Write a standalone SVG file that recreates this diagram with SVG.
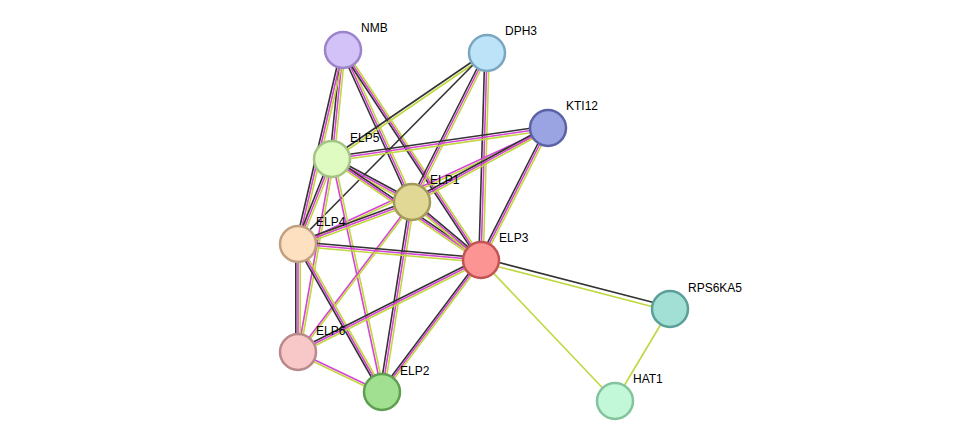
<svg xmlns="http://www.w3.org/2000/svg" width="976" height="446" viewBox="0 0 976 446">
<style>
line{stroke-width:1.6}
.k{stroke:#333}.m{stroke:#d545d5}.y{stroke:#c2d640}
.v .k{transform:translate(-2.2px,0)}.v .y{transform:translate(2.2px,0)}
.h .k{transform:translate(0,-2.2px)}.h .y{transform:translate(0,2.2px)}
circle{stroke-width:2.5}
text{font-family:"Liberation Sans",Arial,sans-serif;font-size:12px;fill:#000}
</style>
<rect width="976" height="446" fill="#fff"/>
<g id="connectors">
<g class="v"><line class="k" x1="343" y1="50" x2="332" y2="159"/><line class="m" x1="343" y1="50" x2="332" y2="159"/><line class="y" x1="343" y1="50" x2="332" y2="159"/></g>
<g class="v"><line class="k" x1="343" y1="50" x2="298" y2="244"/><line class="m" x1="343" y1="50" x2="298" y2="244"/><line class="y" x1="343" y1="50" x2="298" y2="244"/></g>
<g class="v"><line class="k" x1="343" y1="50" x2="412" y2="202"/><line class="m" x1="343" y1="50" x2="412" y2="202"/><line class="y" x1="343" y1="50" x2="412" y2="202"/></g>
<g class="v"><line class="k" x1="343" y1="50" x2="481" y2="260"/><line class="m" x1="343" y1="50" x2="481" y2="260"/><line class="y" x1="343" y1="50" x2="481" y2="260"/></g>
<g class="v"><line class="k" x1="487" y1="53" x2="332" y2="159"/><line class="y" x1="487" y1="53" x2="332" y2="159"/></g>
<g class="v"><line class="k" x1="487" y1="53" x2="298" y2="244"/></g>
<g class="v"><line class="k" x1="487" y1="53" x2="412" y2="202"/><line class="m" x1="487" y1="53" x2="412" y2="202"/><line class="y" x1="487" y1="53" x2="412" y2="202"/></g>
<g class="v"><line class="k" x1="487" y1="53" x2="481" y2="260"/><line class="m" x1="487" y1="53" x2="481" y2="260"/><line class="y" x1="487" y1="53" x2="481" y2="260"/></g>
<g class="h"><line class="k" x1="548" y1="128" x2="332" y2="159"/><line class="m" x1="548" y1="128" x2="332" y2="159"/><line class="y" x1="548" y1="128" x2="332" y2="159"/></g>
<g class="h"><line class="m" x1="548" y1="128" x2="298" y2="244"/><line class="y" x1="548" y1="128" x2="298" y2="244"/></g>
<g class="h"><line class="k" x1="548" y1="128" x2="412" y2="202"/><line class="m" x1="548" y1="128" x2="412" y2="202"/><line class="y" x1="548" y1="128" x2="412" y2="202"/></g>
<g class="v"><line class="k" x1="548" y1="128" x2="481" y2="260"/><line class="m" x1="548" y1="128" x2="481" y2="260"/><line class="y" x1="548" y1="128" x2="481" y2="260"/></g>
<g class="h"><line class="k" x1="332" y1="159" x2="412" y2="202"/><line class="m" x1="332" y1="159" x2="412" y2="202"/><line class="y" x1="332" y1="159" x2="412" y2="202"/></g>
<g class="h"><line class="k" x1="332" y1="159" x2="481" y2="260"/><line class="m" x1="332" y1="159" x2="481" y2="260"/><line class="y" x1="332" y1="159" x2="481" y2="260"/></g>
<g class="v"><line class="k" x1="332" y1="159" x2="298" y2="244"/><line class="m" x1="332" y1="159" x2="298" y2="244"/><line class="y" x1="332" y1="159" x2="298" y2="244"/></g>
<g class="v"><line class="m" x1="332" y1="159" x2="298" y2="352"/><line class="y" x1="332" y1="159" x2="298" y2="352"/></g>
<g class="v"><line class="m" x1="332" y1="159" x2="382" y2="392"/><line class="y" x1="332" y1="159" x2="382" y2="392"/></g>
<g class="h"><line class="k" x1="412" y1="202" x2="298" y2="244"/><line class="m" x1="412" y1="202" x2="298" y2="244"/><line class="y" x1="412" y1="202" x2="298" y2="244"/></g>
<g class="h"><line class="k" x1="412" y1="202" x2="481" y2="260"/><line class="m" x1="412" y1="202" x2="481" y2="260"/><line class="y" x1="412" y1="202" x2="481" y2="260"/></g>
<g class="v"><line class="m" x1="412" y1="202" x2="298" y2="352"/><line class="y" x1="412" y1="202" x2="298" y2="352"/></g>
<g class="v"><line class="k" x1="412" y1="202" x2="382" y2="392"/><line class="m" x1="412" y1="202" x2="382" y2="392"/><line class="y" x1="412" y1="202" x2="382" y2="392"/></g>
<g class="h"><line class="k" x1="298" y1="244" x2="481" y2="260"/><line class="m" x1="298" y1="244" x2="481" y2="260"/><line class="y" x1="298" y1="244" x2="481" y2="260"/></g>
<g class="v"><line class="k" x1="298" y1="244" x2="298" y2="352"/><line class="m" x1="298" y1="244" x2="298" y2="352"/><line class="y" x1="298" y1="244" x2="298" y2="352"/></g>
<g class="v"><line class="k" x1="298" y1="244" x2="382" y2="392"/><line class="m" x1="298" y1="244" x2="382" y2="392"/><line class="y" x1="298" y1="244" x2="382" y2="392"/></g>
<g class="h"><line class="k" x1="481" y1="260" x2="298" y2="352"/><line class="m" x1="481" y1="260" x2="298" y2="352"/><line class="y" x1="481" y1="260" x2="298" y2="352"/></g>
<g class="v"><line class="k" x1="481" y1="260" x2="382" y2="392"/><line class="m" x1="481" y1="260" x2="382" y2="392"/><line class="y" x1="481" y1="260" x2="382" y2="392"/></g>
<g class="h"><line class="m" x1="298" y1="352" x2="382" y2="392"/><line class="y" x1="298" y1="352" x2="382" y2="392"/></g>
<g class="h"><line class="k" x1="481" y1="260" x2="670" y2="309"/><line class="y" x1="481" y1="260" x2="670" y2="309"/></g>
<line class="y" x1="481" y1="260" x2="615" y2="401"/>
<line class="y" x1="670" y1="309" x2="615" y2="401"/>
</g>
<g id="NMB"><circle cx="343" cy="50" r="18" fill="#d3c2f8" stroke="#9b84c9"/><text x="361" y="32">NMB</text></g>
<g id="DPH3"><circle cx="487" cy="53" r="18" fill="#bde3f8" stroke="#7aa6c0"/><text x="505" y="35">DPH3</text></g>
<g id="KTI12"><circle cx="548" cy="128" r="18" fill="#9aa4e2" stroke="#5b62a6"/><text x="566" y="110">KTI12</text></g>
<g id="ELP5"><circle cx="332" cy="159" r="18" fill="#e0fbc2" stroke="#a4c486"/><text x="350" y="142">ELP5</text></g>
<g id="ELP1"><circle cx="412" cy="202" r="18" fill="#e2d896" stroke="#a39b5a"/><text x="430" y="184">ELP1</text></g>
<g id="ELP4"><circle cx="298" cy="244" r="18" fill="#fde0c0" stroke="#c0a080"/><text x="316" y="226">ELP4</text></g>
<g id="ELP3"><circle cx="481" cy="260" r="18" fill="#fc9494" stroke="#c45454"/><text x="499" y="242">ELP3</text></g>
<g id="RPS6KA5"><circle cx="670" cy="309" r="18" fill="#a2e0d6" stroke="#5a9f98"/><text x="688" y="292">RPS6KA5</text></g>
<g id="ELP6"><circle cx="298" cy="352" r="18" fill="#f8c8c8" stroke="#ba8a8a"/><text x="316" y="335">ELP6</text></g>
<g id="ELP2"><circle cx="382" cy="392" r="18" fill="#a0e090" stroke="#5f9f52"/><text x="400" y="375">ELP2</text></g>
<g id="HAT1"><circle cx="615" cy="401" r="18" fill="#c2f8d8" stroke="#84c49c"/><text x="633" y="383">HAT1</text></g>
</svg>
